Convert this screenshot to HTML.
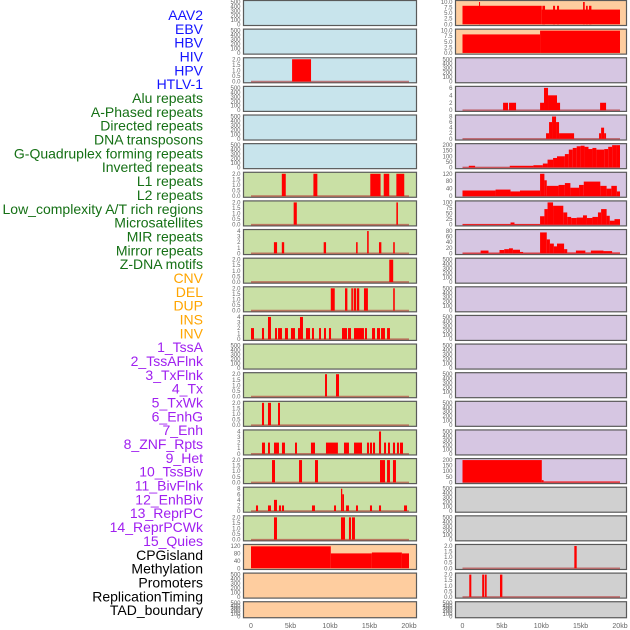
<!DOCTYPE html>
<html><head><meta charset="utf-8"><style>
html,body{margin:0;padding:0;background:#fff;width:630px;height:630px;overflow:hidden}
svg{display:block;font-family:"Liberation Sans",sans-serif}
</style></head><body>
<svg id="chart" width="630" height="630" viewBox="0 0 630 630"></svg>
<script>
// ---- labels ----
const labelNames = ["AAV2","EBV","HBV","HIV","HPV","HTLV-1","Alu repeats","A-Phased repeats","Directed repeats","DNA transposons","G-Quadruplex forming repeats","Inverted repeats","L1 repeats","L2 repeats","Low_complexity A/T rich regions","Microsatellites","MIR repeats","Mirror repeats","Z-DNA motifs","CNV","DEL","DUP","INS","INV","1_TssA","2_TssAFlnk","3_TxFlnk","4_Tx","5_TxWk","6_EnhG","7_Enh","8_ZNF_Rpts","9_Het","10_TssBiv","11_BivFlnk","12_EnhBiv","13_ReprPC","14_ReprPCWk","15_Quies","CPGisland","Methylation","Promoters","ReplicationTiming","TAD_boundary"];
const labelGroups = ["v","v","v","v","v","v","r","r","r","r","r","r","r","r","r","r","r","r","r","s","s","s","s","s","c","c","c","c","c","c","c","c","c","c","c","c","c","c","c","o","o","o","o","o"];
const xTickLabels = ["0","5kb","10kb","15kb","20kb"];
const xTickValues = [0,5,10,15,20];

// ---- per-track segment data: [startKb, endKb, value] ----
const segHIV = [[5.2,7.6,2]];
const segAlu = [[3.9,4.4,2],[7.9,8.4,2],[15.1,16.4,2],[16.8,17.5,2],[18.4,19.4,2]];
const segAPhased = [[5.4,5.8,2],[18.4,18.6,2]];
const segDirected = [[2.9,3.3,2],[3.9,4.2,2],[9.2,9.5,2],[13.3,13.5,2],[14.7,14.9,4],[16.2,16.5,2],[18.0,18.2,2]];
const segDNA = [[17.5,18.0,2]];
const segGQuad = [[10.1,10.6,2],[11.9,12.2,2],[12.7,12.9,2],[13.0,13.3,2],[13.4,13.7,2],[14.3,14.8,2],[18.0,18.2,2]];
const segInverted = [[0,0.38,2],[1.39,1.65,2],[2.15,2.53,4],[3.04,3.29,2],[3.42,3.92,2],[4.3,4.68,2],[5.06,5.57,2],[5.95,6.2,2],[6.2,6.58,4],[6.96,7.47,2],[7.72,7.97,2],[8.61,8.86,2],[9.24,9.49,2],[9.87,10.13,2],[11.52,12.15,2],[12.28,12.66,2],[13.04,14.3,2],[14.43,14.68,2],[15.32,15.7,2],[15.95,16.33,2],[16.46,16.96,2],[17.22,17.59,2]];
const segL2 = [[9.37,9.62,2],[10.76,11.14,2]];
const segLowComplex = [[1.39,1.65,2],[2.15,2.53,2],[3.42,3.67,2]];
const segMicro = [[1.39,1.77,2],[2.15,2.4,2],[2.91,3.54,2],[3.92,4.3,2],[5.57,5.82,2],[7.59,8.1,2],[9.49,11.0,2],[11.77,12.4,2],[13.04,14.05,2],[14.68,14.94,2],[15.06,15.32,2],[15.44,15.7,2],[16.2,16.46,4],[16.84,17.09,2],[17.34,17.59,2],[17.97,18.23,2],[18.48,18.73,2],[18.86,19.24,2]];
const segMIR = [[2.66,3.04,2],[6.08,6.46,2],[8.1,8.48,2],[16.33,16.96,2],[17.22,17.59,2],[17.97,18.35,2]];
const segMirror = [[0.63,0.89,2],[2.15,2.53,2],[2.91,3.29,4],[3.54,3.8,2],[3.92,4.18,2],[7.72,8.1,2],[10.51,10.76,2],[11.39,11.55,8],[11.55,11.77,6],[12.03,12.4,2],[13.29,13.54,2],[15.06,15.32,2],[16.2,16.46,2],[19.37,19.75,2]];
const segZDNA = [[2.91,3.29,2],[11.39,11.9,2],[12.4,12.66,2],[12.78,13.16,2]];
const segCNV = [[0,10.1,118],[10.1,15.3,80],[15.3,19.1,85],[19.1,20,80]];
const segINS = [[0,10.06,8.3],[10.06,20,6.6],[2.1,2.22,10],[10.14,10.48,8.3],[11.5,11.75,8.3],[12.0,12.26,8.3],[15.31,15.52,10],[15.69,15.9,8.3],[16.07,16.37,8.3]];
const segINV = [[0,9.85,8.3],[9.85,20,10]];
const segTssAFlnk = [[5.15,5.78,2],[5.91,6.8,2],[9.85,10.35,2],[10.35,10.86,6],[10.86,12.0,4],[12.0,12.39,2],[17.47,18.23,2]];
const segTxFlnk = [[10.61,10.99,2],[10.99,11.37,6],[11.37,11.88,8],[11.88,12.26,6],[12.26,14.17,2],[17.34,17.6,2],[17.6,17.98,4],[17.98,18.23,2]];
const segTx = [[0,0.8,2],[0.8,1.6,15],[1.6,6,2],[6,9,15],[9,10.2,20],[10.2,10.8,35],[10.8,11.5,70],[11.5,12,85],[12,13,100],[13,13.5,120],[13.5,14,160],[14,14.5,175],[14.5,15,190],[15,15.5,195],[15.5,16,185],[16,16.5,165],[16.5,17,175],[17,18,160],[18,18.5,165],[18.5,19,185],[19,19.5,205],[19.5,20,215]];
const segTxWk = [[0,4.2,30],[4.2,6.1,35],[6.1,7.3,25],[7.3,9.85,30],[9.85,10.4,130],[10.4,10.7,85],[10.7,12.2,55],[12.2,13,60],[13,13.7,70],[13.7,14.8,45],[14.8,15.4,60],[15.4,17.5,78],[17.5,18.3,55],[18.3,18.9,40],[18.9,19.6,55],[19.6,20,25]];
const segEnhG = [[0,6.1,3],[6.1,6.6,10],[6.6,9.85,3],[9.85,10.4,38],[10.4,10.8,70],[10.8,11.5,100],[11.5,12.8,85],[12.8,13.3,55],[13.3,13.8,35],[13.8,14.5,30],[14.5,15.3,32],[15.3,15.8,42],[15.8,16.5,30],[16.5,17.2,35],[17.2,17.6,55],[17.6,18.3,70],[18.3,18.7,40],[18.7,19.3,18],[19.3,20,25]];
const segEnh = [[0,2.3,2],[2.3,3.3,10],[3.3,4.7,2],[4.7,5.3,12],[5.3,5.9,15],[5.9,6.4,18],[6.4,7.3,13],[7.3,7.7,5],[7.7,9.85,2],[9.85,10.7,75],[10.7,11.1,50],[11.1,11.6,35],[11.6,12.0,25],[12.0,12.9,35],[12.9,13.3,15],[13.3,14.4,3],[14.4,15.6,10],[15.6,16.3,3],[16.3,17.9,10],[17.9,19.0,8],[19.0,20,3]];
const segQuies = [[0,10.07,220],[10.07,10.3,20],[10.3,20,8]];
const segMeth = [[14.2,14.5,2]];
const segProm = [[0.86,1.12,2],[2.5,2.77,2],[2.86,3.07,2],[4.76,5.06,2]];

// ---- track config (max of y-axis, background, segments, baseline) ----
const leftTracks = [
 [500,"b",[],0],[500,"b",[],0],[2,"b",segHIV,1],[500,"b",[],0],[500,"b",[],0],[500,"b",[],0],
 [2,"g",segAlu,1],[2,"g",segAPhased,1],[4,"g",segDirected,1],[2,"g",segDNA,1],[2,"g",segGQuad,1],[4,"g",segInverted,1],
 [500,"g",[],0],[2,"g",segL2,1],[2,"g",segLowComplex,1],[4,"g",segMicro,1],[2,"g",segMIR,1],[8,"g",segMirror,1],[2,"g",segZDNA,1],
 [120,"p",segCNV,0],[500,"p",[],0],[500,"p",[],0]];
const rightTracks = [
 [10,"p",segINS,0],[10,"p",segINV,0],[500,"l",[],0],[6,"l",segTssAFlnk,1],[8,"l",segTxFlnk,1],[200,"l",segTx,1],[120,"l",segTxWk,1],[100,"l",segEnhG,1],[80,"l",segEnh,1],
 [500,"l",[],0],[500,"l",[],0],[500,"l",[],0],[500,"l",[],0],[500,"l",[],0],[500,"l",[],0],[500,"l",[],0],[200,"l",segQuies,1],
 [500,"k",[],0],[500,"k",[],0],[2,"k",segMeth,1],[2,"k",segProm,1],[500,"k",[],0]];

const bgColors = {b:"#c8e4ec",g:"#c9e0a5",p:"#fecd9f",l:"#d6c6e2",k:"#d0d0d0"};
const txtColors = {v:"#1414ff",r:"#157015",s:"#ffa500",c:"#a020f0",o:"#000000"};
const NS = "http://www.w3.org/2000/svg";
const svg = document.getElementById("chart");
function mk(tag, attrs){const e=document.createElementNS(NS,tag);for(const k in attrs)e.setAttribute(k,attrs[k]);return e;}
function ticksFor(max){
  if(max===500) return [0,100,200,300,400,500];
  if(max===2) return [0,0.5,1,1.5,2];
  if(max===10) return [0,2.5,5,7.5,10];
  if(max===4) return [0,1,2,3,4];
  if(max===8) return [0,2,4,6,8];
  if(max===6) return [0,2,4,6];
  if(max===120) return [0,40,80,120];
  if(max===200) return [0,50,100,150,200];
  if(max===100) return [0,25,50,75,100];
  if(max===80) return [0,20,40,60,80];
  return [0,max];
}
function fmt(max,v){return (max===2||max===10)?v.toFixed(1):String(v);}

// labels
labelNames.forEach((t,i)=>{
  const e=mk("text",{x:203,y:(15+13.84*i+5).toFixed(1),"text-anchor":"end","font-size":"14",fill:txtColors[labelGroups[i]]});
  
  
  e.textContent=t;svg.appendChild(e);
});

function drawColumn(tracks, left, width, x0, x20, colName){
  const xs = kb => x0 + (x20-x0)*kb/20;
  tracks.forEach((tr,i)=>{
    const [max,bg,segs,base]=tr;
    const top = 0.5 + 28.63*i;
    const h = i===21 ? 16 : 25;
    const yb = top + h - 1.2, yt = top + 1.5;
    const ys = v => yb - (yb-yt)*v/max;
    const g=mk("g",{});
    
    
    const r=mk("rect",{x:left,y:top,width:width,height:h,fill:bgColors[bg],stroke:"#5a5a5a","stroke-width":"1.2"});
    
    
    g.appendChild(r);
    if(base){
      const l=mk("line",{x1:xs(0),x2:xs(20),y1:yb,y2:yb,stroke:"#b03030","stroke-opacity":"0.6","stroke-width":"1.6"});
      
      
      g.appendChild(l);
    }
    segs.forEach(s=>{
      const x1=xs(s[0]),x2=xs(s[1]),y=ys(Math.min(s[2],max));
      const b=mk("rect",{x:x1.toFixed(2),y:y.toFixed(2),width:Math.max(1,x2-x1).toFixed(2),height:(yb-y).toFixed(2),fill:"#ff0000"});
      
      
      g.appendChild(b);
    });
    const tks=ticksFor(max);
    tks.forEach(v=>{
      const t=mk("text",{x:left-3,y:(ys(v)+2).toFixed(1),"text-anchor":"end","font-size":"6",fill:"#666"});
      
      
      t.textContent=fmt(max,v);g.appendChild(t);
    });
    svg.appendChild(g);
  });
  xTickValues.forEach((v,j)=>{
    const t=mk("text",{x:xs(v).toFixed(1),y:628,"text-anchor":"middle","font-size":"7",fill:"#666"});
    
    
    t.textContent=xTickLabels[j];svg.appendChild(t);
  });
}
drawColumn(leftTracks,243.5,173,251,409,"left");
drawColumn(rightTracks,455.5,171,462.5,620,"right");
</script>
</body></html>
